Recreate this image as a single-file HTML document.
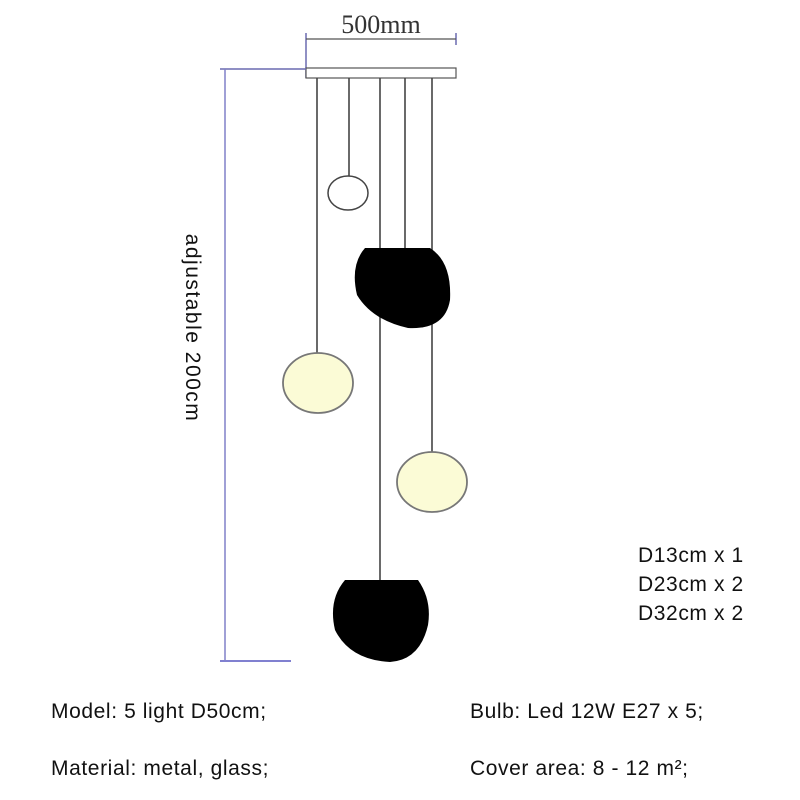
<!DOCTYPE html>
<html><head><style>
body{margin:0;width:800px;height:800px;background:#fff;overflow:hidden;position:relative;font-family:"Liberation Sans",sans-serif;}
.t{position:absolute;font-size:21px;letter-spacing:0.6px;color:#111;white-space:nowrap;}
</style></head><body>
<svg width="800" height="800" style="position:absolute;left:0;top:0">
<line x1="306" y1="33" x2="306" y2="78" stroke="#6a6ab0" stroke-width="1.5"/>
<line x1="456" y1="33" x2="456" y2="45" stroke="#6a6ab0" stroke-width="1.5"/>
<line x1="306" y1="39" x2="456" y2="39" stroke="#555" stroke-width="1.2"/>
<text x="381" y="33" font-family="Liberation Serif" font-size="26" text-anchor="middle" fill="#333">500mm</text>
<rect x="306" y="68" width="150" height="10" fill="#fff" stroke="#555" stroke-width="1.2"/>
<line x1="220" y1="69" x2="306" y2="69" stroke="#6a6ab0" stroke-width="1.5"/>
<line x1="225" y1="69" x2="225" y2="661" stroke="#8080c8" stroke-width="1.5"/>
<line x1="220" y1="661" x2="291" y2="661" stroke="#8080d0" stroke-width="2"/>
<g stroke="#444" stroke-width="1.6">
<line x1="317" y1="78" x2="317" y2="354"/>
<line x1="349" y1="78" x2="349" y2="177"/>
<line x1="380" y1="78" x2="380" y2="580"/>
<line x1="405" y1="78" x2="405" y2="250"/>
<line x1="432" y1="78" x2="432" y2="452"/>
</g>
<ellipse cx="348" cy="193" rx="20" ry="17" fill="#fff" stroke="#444" stroke-width="1.5"/>
<path d="M365 248 L430 248 Q452 262 450 300 Q445 330 408 328 Q372 320 357 295 Q350 265 365 248Z" fill="#000"/>
<ellipse cx="318" cy="383" rx="35" ry="30" fill="#fbfbd6" stroke="#777" stroke-width="1.8"/>
<ellipse cx="432" cy="482" rx="35" ry="30" fill="#fbfbd6" stroke="#777" stroke-width="1.8"/>
<path d="M345 580 L418 580 Q432 600 428 625 Q420 660 390 662 Q350 660 335 630 Q328 600 345 580Z" fill="#000"/>
</svg>
<div class="t" style="top:328px;left:92px;width:200px;text-align:center;transform:translate(0,-50%) rotate(90deg);transform-origin:center;letter-spacing:1.5px;">adjustable 200cm</div>
<div class="t" style="left:638px;top:544px;">D13cm x 1</div>
<div class="t" style="left:638px;top:573px;">D23cm x 2</div>
<div class="t" style="left:638px;top:602px;">D32cm x 2</div>
<div class="t" style="left:51px;top:700px;">Model: 5 light D50cm;</div>
<div class="t" style="left:470px;top:700px;">Bulb: Led 12W E27 x 5;</div>
<div class="t" style="left:51px;top:757px;">Material: metal, glass;</div>
<div class="t" style="left:470px;top:757px;">Cover area: 8 - 12 m²;</div>
</body></html>
